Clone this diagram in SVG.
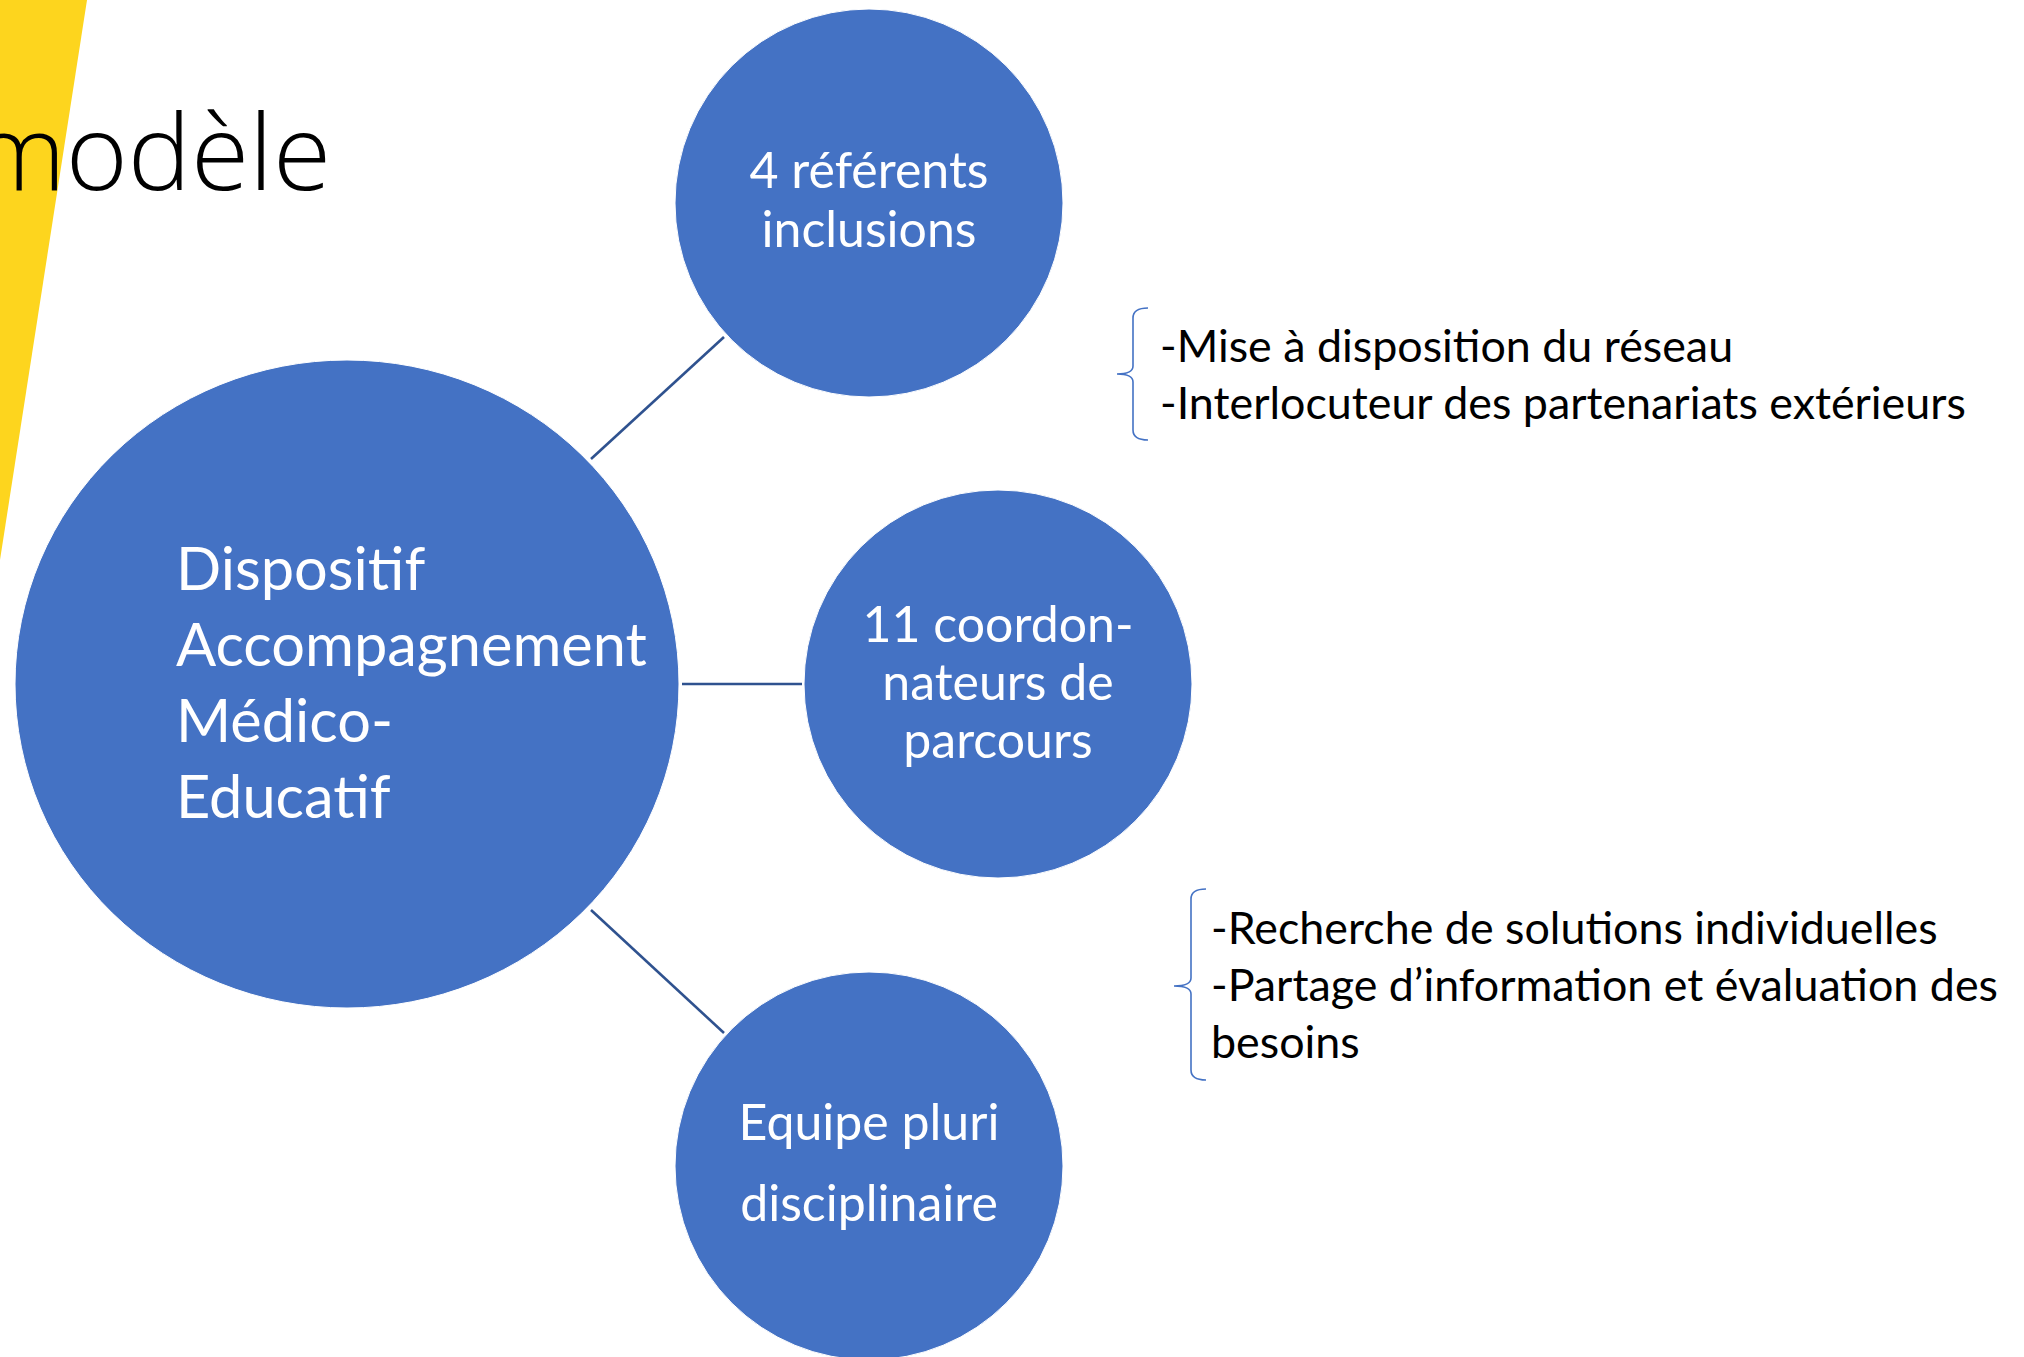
<svg xmlns="http://www.w3.org/2000/svg" width="2024" height="1357" viewBox="0 0 2024 1357">
<style>
.node{fill:#4472C4;stroke:#FFFFFF;stroke-width:1}
.nt{font-family:Lato,"Liberation Sans",sans-serif;fill:#FFFFFF}
.ct{text-anchor:middle;font-size:50px}
.conn{stroke:#2F528F;stroke-width:2.6;fill:none}
.br{stroke:#4472C4;stroke-width:1.6;fill:none}
.bt{font-family:Lato,"Liberation Sans",sans-serif;font-size:44.8px;fill:#000000}
</style>
<rect x="0" y="0" width="2024" height="1357" fill="#FFFFFF"/>
<polygon points="0,0 87,0 0,560" fill="#FDD51E"/>
<text x="-28" y="190" font-family="'Open Sans',sans-serif" font-weight="300" font-size="106" fill="#000000">modèle</text>
<g id="connectors">
<line class="conn" x1="591" y1="459" x2="724" y2="337"/>
<line class="conn" x1="682" y1="684" x2="802" y2="684"/>
<line class="conn" x1="591" y1="910" x2="724" y2="1033"/>
</g>
<g id="node-center">
<ellipse class="node" cx="347" cy="684" rx="332" ry="324"/>
<text class="nt" font-size="59.5"><tspan x="176" y="590">Dispositif</tspan><tspan x="176" y="666">Accompagnement</tspan><tspan x="176" y="742">Médico-</tspan><tspan x="176" y="818">Educatif</tspan></text>
</g>
<g id="node-referents">
<circle class="node" cx="869" cy="203" r="194"/>
<text class="nt ct"><tspan x="869" y="188">4 référents</tspan><tspan x="869" y="247">inclusions</tspan></text>
</g>
<g id="node-coordonnateurs">
<circle class="node" cx="998" cy="684" r="194"/>
<text class="nt ct"><tspan x="998" y="642">11 coordon-</tspan><tspan x="998" y="700">nateurs de</tspan><tspan x="998" y="758">parcours</tspan></text>
</g>
<g id="node-equipe">
<circle class="node" cx="869" cy="1166" r="194"/>
<text class="nt ct"><tspan x="869" y="1140">Equipe pluri</tspan><tspan x="869" y="1221">disciplinaire</tspan></text>
</g>
<g id="note-referents">
<path class="br" d="M1148,308 Q1133,308 1133,318 L1133,366 Q1133,374 1117,374 Q1133,374 1133,382 L1133,430 Q1133,440 1148,440"/>
<text class="bt"><tspan x="1160" y="362">-Mise à disposition du réseau</tspan><tspan x="1160" y="419">-Interlocuteur des partenariats extérieurs</tspan></text>
</g>
<g id="note-coordonnateurs">
<path class="br" d="M1206,889 Q1191,889 1191,899 L1191,978 Q1191,986 1174,986 Q1191,986 1191,994 L1191,1070 Q1191,1080 1206,1080"/>
<text class="bt"><tspan x="1211" y="944">-Recherche de solutions individuelles</tspan><tspan x="1211" y="1001">-Partage d’information et évaluation des</tspan><tspan x="1211" y="1058">besoins</tspan></text>
</g>
</svg>
